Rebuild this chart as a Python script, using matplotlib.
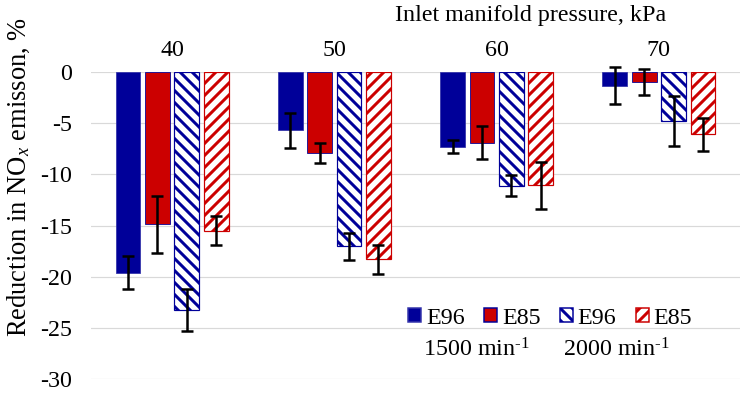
import numpy as np
import matplotlib
matplotlib.use("Agg")
import matplotlib.pyplot as plt
from matplotlib.patches import Patch

plt.rcParams["font.family"] = ["Liberation Serif", "DejaVu Serif"]
plt.rcParams["mathtext.fontset"] = "custom"
plt.rcParams["mathtext.rm"] = "Liberation Serif"
plt.rcParams["mathtext.it"] = "Liberation Serif:italic"
plt.rcParams["axes.unicode_minus"] = False
plt.rcParams["hatch.linewidth"] = 3.0

pressures = ["40", "50", "60", "70"]
series_labels = ["E96", "E85", "E96", "E85"]

# Mean reduction (%) per series, ordered by pressure
e96_1500 = [-19.6, -5.7, -7.3, -1.35]
e85_1500 = [-14.9, -7.9, -6.9, -1.0]
e96_2000 = [-23.3, -17.05, -11.1, -4.75]
e85_2000 = [-15.5, -18.3, -11.05, -6.1]

# Error bar half-widths
err_e96_1500 = [1.65, 1.7, 0.62, 1.8]
err_e85_1500 = [2.8, 1.0, 1.65, 1.25]
err_e96_2000 = [2.05, 1.35, 1.0, 2.45]
err_e85_2000 = [1.45, 1.4, 2.3, 1.65]

blue = "#000099"
red = "#CC0000"
FS = 24

W, H, DPI = 740, 393, 72
fig = plt.figure(figsize=(W / DPI, H / DPI), dpi=DPI)
ax = fig.add_axes([91 / W, 1 - 379 / H, 649 / W, 307 / H])

x = np.arange(len(pressures))
pitch = 0.181
bw = 0.152
offsets = np.array([-1.5, -0.5, 0.5, 1.5]) * pitch

styles = [
    dict(color=blue, edgecolor="#3333aa", hatch=None, lw=0.8),
    dict(color=red, edgecolor=blue, hatch=None, lw=0.8),
    dict(color="white", edgecolor=blue, hatch="\\\\", lw=1.2),
    dict(color="white", edgecolor=red, hatch="//", lw=1.2),
]
values = [e96_1500, e85_1500, e96_2000, e85_2000]
errors = [err_e96_1500, err_e85_1500, err_e96_2000, err_e85_2000]

handles = []
for off, vals, errs, st, lab in zip(offsets, values, errors, styles, series_labels):
    ax.bar(x + off, vals, width=bw, color=st["color"], edgecolor=st["edgecolor"],
           hatch=st["hatch"], linewidth=st["lw"], zorder=3)
    eb = ax.errorbar(x + off, vals, yerr=errs, fmt="none", ecolor="black",
                     elinewidth=2.5, capsize=6, capthick=2.5, zorder=4)
    for art in eb.get_children():
        art.set_clip_on(False)
    handles.append(Patch(facecolor=st["color"], edgecolor=st["edgecolor"],
                         hatch=st["hatch"], linewidth=1.5, label=lab))

ax.set_xlim(-0.5, 3.5)
ax.set_ylim(-30, 0)
ax.set_yticks(np.arange(-30, 1, 5))
ax.yaxis.grid(True, color="#d9d9d9", linewidth=1.2, zorder=0)
ax.set_axisbelow(True)
ax.tick_params(axis="y", length=0, labelsize=FS, pad=19)
ax.xaxis.tick_top()
ax.set_xticks(x)
ax.set_xticklabels(pressures)
ax.tick_params(axis="x", length=0, labelsize=FS, pad=11)
for s in ax.spines.values():
    s.set_visible(False)

fig.text(666 / W, 1 - 15 / H, "Inlet manifold pressure, kPa", ha="right", va="center", fontsize=FS)
fig.text(19 / W, 1 - 177 / H, "Reduction in NO$_x$ emisson, %", rotation=90,
         ha="center", va="center", fontsize=26.5)

leg = fig.legend(handles=handles, ncols=4, frameon=False, fontsize=FS,
                 handlelength=0.55, handleheight=0.55, handletextpad=0.2,
                 columnspacing=0.8, loc="center", bbox_to_anchor=(550 / W, 1 - 318 / H))

fig.text(476 / W, 1 - 350 / H, "1500 min$^{\\text{-1}}$", ha="center", va="center", fontsize=FS)
fig.text(616 / W, 1 - 350 / H, "2000 min$^{\\text{-1}}$", ha="center", va="center", fontsize=FS)

fig.savefig("out.png", dpi=DPI)
